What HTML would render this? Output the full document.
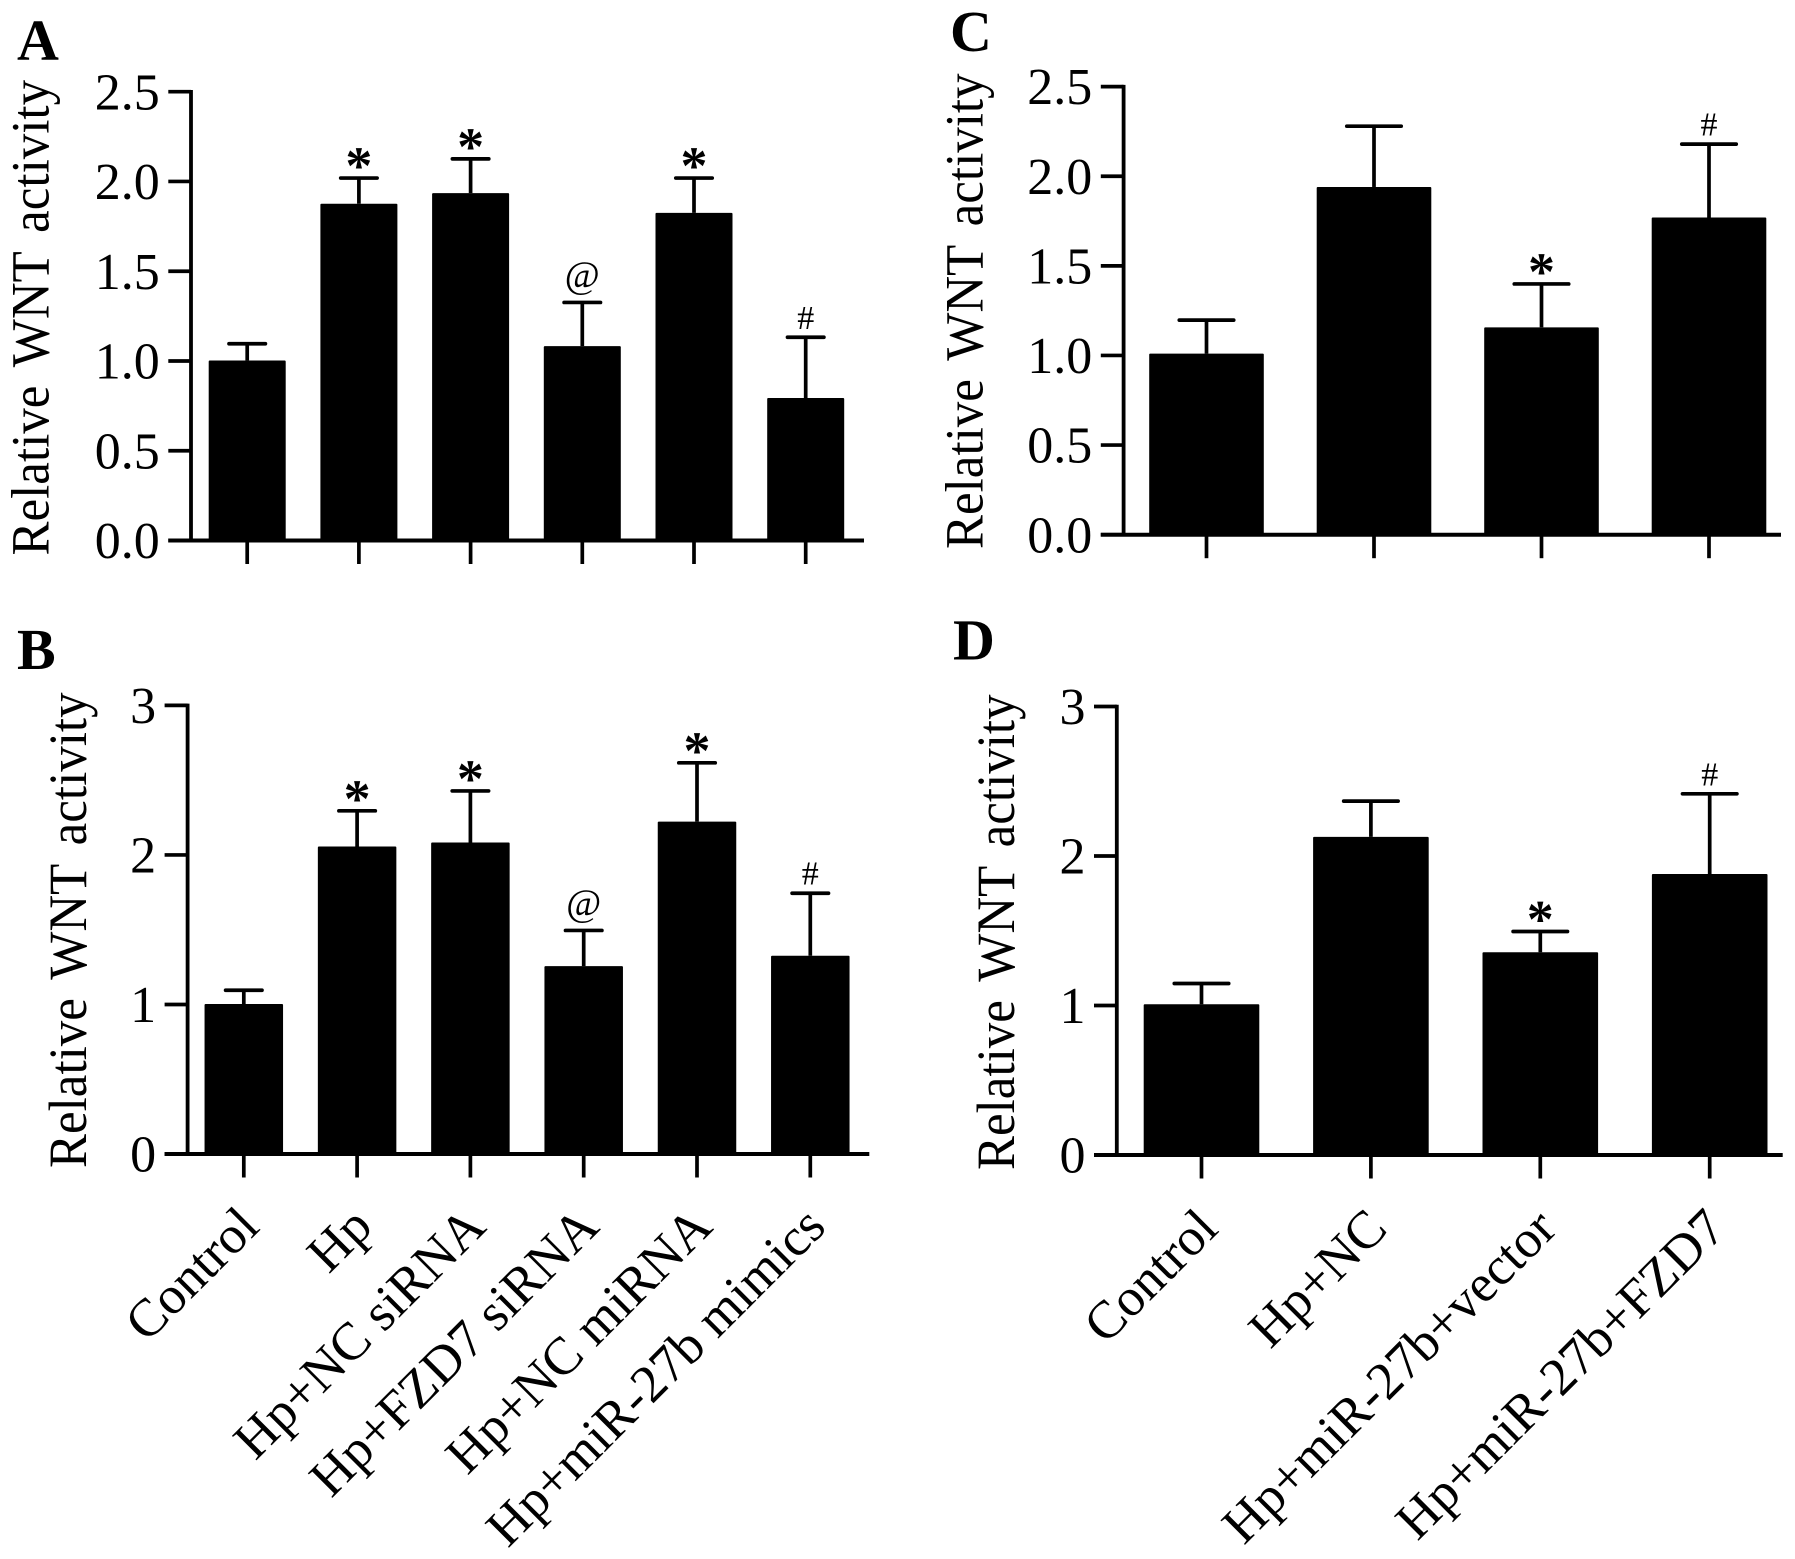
<!DOCTYPE html>
<html lang="en">
<head>
<meta charset="utf-8">
<title>Relative WNT activity</title>
<style>
html,body{margin:0;padding:0;background:#fff;}
svg{display:block;}
text{font-family:"Liberation Serif",serif;fill:#000;}
</style>
</head>
<body>
<svg id="figure" xmlns="http://www.w3.org/2000/svg" width="1795" height="1559" viewBox="0 0 1795 1559">
<rect x="0" y="0" width="1795" height="1559" fill="#fff"/>
<text x="17" y="59.5" font-size="58" font-weight="700">A</text>
<text x="17" y="669" font-size="58" font-weight="700">B</text>
<text x="950" y="51" font-size="58" font-weight="700">C</text>
<text x="953" y="659.5" font-size="58" font-weight="700">D</text>
</svg>
<script>
const yAxisTitle = "Relative WNT activity";

const aCategories = ["Control", "Hp", "Hp+NC siRNA", "Hp+FZD7 siRNA", "Hp+NC miRNA", "Hp+miR-27b mimics"];
const aValues = [1.003, 1.876, 1.935, 1.083, 1.825, 0.794];
const aErrorTops = [1.096, 2.019, 2.126, 1.326, 2.019, 1.132];
const aMarks = ["", "*", "*", "@", "*", "#"];
const aTicks = ["0.0", "0.5", "1.0", "1.5", "2.0", "2.5"];

const bCategories = ["Control", "Hp", "Hp+NC siRNA", "Hp+FZD7 siRNA", "Hp+NC miRNA", "Hp+miR-27b mimics"];
const bValues = [1.003, 2.056, 2.083, 1.256, 2.223, 1.326];
const bErrorTops = [1.095, 2.295, 2.428, 1.495, 2.616, 1.744];
const bMarks = ["", "*", "*", "@", "*", "#"];
const bTicks = ["0", "1", "2", "3"];

const cCategories = ["Control", "Hp+NC", "Hp+miR-27b+vector", "Hp+miR-27b+FZD7"];
const cValues = [1.01, 1.94, 1.157, 1.77];
const cErrorTops = [1.197, 2.279, 1.399, 2.179];
const cMarks = ["", "", "*", "#"];
const cTicks = ["0.0", "0.5", "1.0", "1.5", "2.0", "2.5"];

const dCategories = ["Control", "Hp+NC", "Hp+miR-27b+vector", "Hp+miR-27b+FZD7"];
const dValues = [1.008, 2.128, 1.356, 1.88];
const dErrorTops = [1.147, 2.367, 1.495, 2.416];
const dMarks = ["", "", "*", "#"];
const dTicks = ["0", "1", "2", "3"];

const svg = document.getElementById("figure");
const NS = "http://www.w3.org/2000/svg";

function make(parent, tag, attrs, content) {
  const el = document.createElementNS(NS, tag);
  for (const k in attrs) el.setAttribute(k, attrs[k]);
  if (content !== undefined) el.textContent = content;
  parent.appendChild(el);
  return el;
}

function drawPanel(cfg) {
  const g = make(svg, "g", {});
  
  

  const maxTick = parseFloat(cfg.ticks[cfg.ticks.length - 1]);
  const y = v => cfg.baseY - (v / maxTick) * (cfg.baseY - cfg.topY);
  const x = i => cfg.x0 + i * cfg.step;

  // bars
  cfg.values.forEach((v, i) => {
    const bar = make(g, "rect", {x: x(i) - cfg.barW / 2, y: y(v), width: cfg.barW, height: cfg.baseY - y(v), rx: 1, fill: "#000"});
    
    
  });

  // error bars
  cfg.errorTops.forEach((e, i) => {
    const stem = make(g, "line", {x1: x(i), x2: x(i), y1: y(cfg.values[i]), y2: y(e), stroke: "#000", "stroke-width": 3.7});
    
    
    const cap = make(g, "line", {x1: x(i) - cfg.capW / 2 + 1.8, x2: x(i) + cfg.capW / 2 - 1.8, y1: y(e), y2: y(e), stroke: "#000", "stroke-width": 3.7, "stroke-linecap": "round"});
    
    
  });

  // significance marks
  cfg.marks.forEach((m, i) => {
    if (!m) return;
    const capY = y(cfg.errorTops[i]);
    let size = 54, off = 6, weight = 700;
    if (m === "@") { size = 38; off = -15; weight = 400; }
    if (m === "#") { size = 34; off = -8.5; weight = 400; }
    const t = make(g, "text", {x: x(i), y: capY + off, "font-size": size, "font-weight": weight, "text-anchor": "middle"}, m);
    
    
  });

  // axes
  const yAxis = make(g, "line", {x1: cfg.axisX, x2: cfg.axisX, y1: cfg.topY - 1.75, y2: cfg.baseY, stroke: "#000", "stroke-width": 3.8});
  
  
  const xAxis = make(g, "line", {x1: cfg.tickLeft, x2: cfg.endX, y1: cfg.baseY, y2: cfg.baseY, stroke: "#000", "stroke-width": 4});
  
  

  // y ticks
  cfg.ticks.forEach(label => {
    const v = parseFloat(label);
    const tick = make(g, "line", {x1: cfg.tickLeft, x2: cfg.axisX, y1: y(v), y2: y(v), stroke: "#000", "stroke-width": 3.7});
    
    
    const t = make(g, "text", {x: cfg.tickLeft - 8.5, y: y(v) + 17.6, "font-size": 52, "text-anchor": "end"}, label);
    
    
  });

  // x ticks and labels
  cfg.categories.forEach((c, i) => {
    const tick = make(g, "line", {x1: x(i), x2: x(i), y1: cfg.baseY, y2: cfg.baseY + 23.5, stroke: "#000", "stroke-width": 3.7});
    
    
    if (cfg.showLabels) {
      const lx = x(i) + 15 + cfg.labelDx, ly = cfg.baseY + 78 + cfg.labelDy;
      const t = make(g, "text", {x: lx, y: ly, "font-size": 53, "text-anchor": "end", transform: `rotate(-45 ${lx} ${ly})`}, c);
      
      
    }
  });

  // y title
  const title = make(g, "text", {x: 0, y: 0, "font-size": 51, "word-spacing": 6.5, transform: `translate(${cfg.titleX} ${cfg.titleY}) rotate(-90) scale(1 1.05)`}, yAxisTitle);
  
  
}

drawPanel({name: "panel-a", categories: aCategories, values: aValues, errorTops: aErrorTops, marks: aMarks, ticks: aTicks,
  axisX: 191, baseY: 540.5, topY: 91.7, tickLeft: 168.3, endX: 864, x0: 247.2, step: 111.7, barW: 77, capW: 40, showLabels: false, titleX: 48.3, titleY: 555.5});
drawPanel({name: "panel-b", categories: bCategories, values: bValues, errorTops: bErrorTops, marks: bMarks, ticks: bTicks,
  axisX: 187.6, baseY: 1154, topY: 705.4, tickLeft: 164.6, endX: 869.3, x0: 243.8, step: 113.3, barW: 78.5, capW: 40, showLabels: true, labelDx: 2.5, labelDy: -3, titleX: 86, titleY: 1168});
drawPanel({name: "panel-c", categories: cCategories, values: cValues, errorTops: cErrorTops, marks: cMarks, ticks: cTicks,
  axisX: 1123.6, baseY: 534.7, topY: 86.6, tickLeft: 1100.8, endX: 1781, x0: 1206.5, step: 167.5, barW: 114.6, capW: 58, showLabels: false, titleX: 982.7, titleY: 549});
drawPanel({name: "panel-d", categories: dCategories, values: dValues, errorTops: dErrorTops, marks: dMarks, ticks: dTicks,
  axisX: 1116.8, baseY: 1155, topY: 706.5, tickLeft: 1094, endX: 1782.7, x0: 1201.5, step: 169.4, barW: 115.6, capW: 58, showLabels: true, labelDx: 3.5, labelDy: -2, titleX: 1014, titleY: 1170});
</script>
</body>
</html>
